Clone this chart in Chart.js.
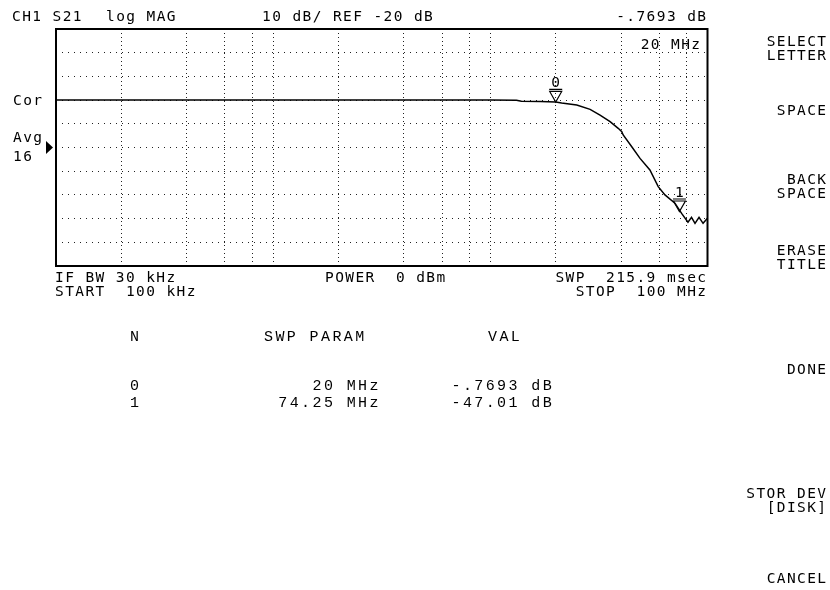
<!DOCTYPE html>
<html>
<head>
<meta charset="utf-8">
<script src="https://cdn.jsdelivr.net/npm/chart.js@4.4.0/dist/chart.umd.min.js"></script>
<style>
  body { margin: 0; background: #fff; }
  #screen { position: relative; width: 830px; height: 590px; background: #fff; overflow: hidden; }
  #screen canvas { position: absolute; left: 0; top: 0; }
  .txt { position: absolute; white-space: pre; color: #000; }
  .hp { font: 14.5px/14px "DejaVu Sans Mono", monospace; letter-spacing: 1.4px; }
  .tbl { font: 15px/15px "Liberation Mono", monospace; letter-spacing: 2.4px; }
</style>
</head>
<body>
<div id="screen">
  <canvas id="trace" width="830" height="590"></canvas>
</div>
<script>
// S21 log MAG trace, 100 kHz .. 100 MHz (frequencies in MHz)
const traceFreqs = [0.1, 1, 10, 13.2, 13.9, 17, 20, 21.3, 25.0, 28.8, 32.0, 35.6, 38.8, 40.3, 40.9,
  44.8, 48.9, 54.3, 59.3, 63.7, 70.8, 76.0, 81.3, 84.4, 87.6, 91.4, 95.4, 100];
const traceDb = [0, 0, 0, -0.05, -0.45, -0.55, -0.77, -1.2, -2.1, -3.9, -6.3, -9.1, -11.9, -13.3, -14.7,
  -19.7, -24.6, -29.5, -36.5, -40.0, -43.5, -47.8, -51.5, -49.5, -52.0, -49.5, -52.0, -49.8];

// markers
const markerNames = ['0', '1'];
const markerFreqs = [20, 74.25];
const markerDb = [-0.7693, -47.01];
const markerFreqText = ['20 MHz', '74.25 MHz'];
const markerValText = ['-.7693 dB', '-47.01 dB'];

// graticule: 10 dB/div, REF -20 dB, log frequency grid at 2,4,6,8 per decade
const refLevel = -20;
const yMin = -70;
const yMax = 30;
const freqGrid = [0.2, 0.4, 0.6, 0.8, 1, 2, 4, 6, 8, 10, 20, 40, 60, 80];

const screen = document.getElementById('screen');

function addText(txt, x, base, cls, align) {
  const d = document.createElement('div');
  d.className = 'txt ' + cls;
  d.textContent = txt;
  const ls = cls === 'hp' ? 1.4 : 2.4;
  const lift = cls === 'hp' ? 12.2 : 11.5;
  d.style.top = (base - lift) + 'px';
  if (align === 'right') {
    d.style.right = (830 - x - ls) + 'px';
  } else {
    d.style.left = x + 'px';
  }
  screen.appendChild(d);
}

// frame, marker symbols and reference arrow
const screenDecor = {
  id: 'screenDecor',
  afterDatasetsDraw(chart) {
    const { ctx, chartArea, scales } = chart;
    const x = scales.x;
    const y = scales.y;
    ctx.save();
    ctx.strokeStyle = '#000';
    ctx.fillStyle = '#000';

    // markers
    ctx.lineWidth = 1.2;
    ctx.font = '14.5px "DejaVu Sans Mono", monospace';
    ctx.textAlign = 'center';
    markerFreqs.forEach((f, i) => {
      const px = x.getPixelForValue(f);
      const py = y.getPixelForValue(markerDb[i]);
      ctx.beginPath();
      ctx.moveTo(px - 6.5, py - 12.5);
      ctx.lineTo(px + 6.5, py - 12.5);
      ctx.moveTo(px - 6, py - 10.5);
      ctx.lineTo(px + 6, py - 10.5);
      ctx.lineTo(px, py);
      ctx.closePath();
      ctx.stroke();
      ctx.fillText(markerNames[i], px, py - 15);
    });

    // frame
    ctx.lineWidth = 2;
    ctx.strokeRect(chartArea.left, chartArea.top, chartArea.right - chartArea.left, chartArea.bottom - chartArea.top);

    // reference position arrow
    const yr = y.getPixelForValue(refLevel);
    ctx.beginPath();
    ctx.moveTo(chartArea.left - 10, yr - 6.5);
    ctx.lineTo(chartArea.left - 3, yr);
    ctx.lineTo(chartArea.left - 10, yr + 6.5);
    ctx.closePath();
    ctx.fill();
    ctx.restore();
  }
};

new Chart(document.getElementById('trace'), {
  type: 'line',
  data: {
    datasets: [{
      data: traceFreqs.map((f, i) => ({ x: f, y: traceDb[i] })),
      borderColor: '#000',
      borderWidth: 1.5,
      pointRadius: 0,
      tension: 0,
      fill: false
    }]
  },
  options: {
    responsive: false,
    animation: false,
    layout: { padding: { left: 56, top: 29, right: 122.5, bottom: 324 } },
    plugins: { legend: { display: false }, tooltip: { enabled: false } },
    scales: {
      x: {
        type: 'logarithmic',
        min: 0.1,
        max: 100,
        afterBuildTicks: (scale) => {
          scale.ticks = freqGrid.map((v) => ({ value: v }));
        },
        ticks: { display: false },
        grid: { color: '#222', lineWidth: 1, drawTicks: false },
        border: { display: false, dash: [1, 3] }
      },
      y: {
        min: yMin,
        max: yMax,
        ticks: { display: false, stepSize: 10 },
        grid: { color: '#222', lineWidth: 1, drawTicks: false },
        border: { display: false, dash: [1, 5] }
      }
    }
  },
  plugins: [screenDecor]
});

// annotation text
addText('CH1 S21', 12, 20.7, 'hp');
addText('log MAG', 106, 20.7, 'hp');
addText('10 dB/ REF -20 dB', 262, 20.7, 'hp');
addText('-.7693 dB', 706, 20.7, 'hp', 'right');
addText('20 MHz', 700, 49, 'hp', 'right');
addText('Cor', 13, 105, 'hp');
addText('Avg', 13, 142, 'hp');
addText('16', 13, 161.5, 'hp');
addText('IF BW 30 kHz', 55, 281.7, 'hp');
addText('START  100 kHz', 55, 296.5, 'hp');
addText('POWER  0 dBm', 325, 281.7, 'hp');
addText('SWP  215.9 msec', 706, 281.7, 'hp', 'right');
addText('STOP  100 MHz', 706, 296.5, 'hp', 'right');

// softkeys
addText('SELECT', 826, 46, 'hp', 'right');
addText('LETTER', 826, 60, 'hp', 'right');
addText('SPACE', 826, 115.5, 'hp', 'right');
addText('BACK', 826, 184, 'hp', 'right');
addText('SPACE', 826, 198, 'hp', 'right');
addText('ERASE', 826, 255, 'hp', 'right');
addText('TITLE', 826, 269, 'hp', 'right');
addText('DONE', 826, 374.5, 'hp', 'right');
addText('STOR DEV', 826, 498, 'hp', 'right');
addText('[DISK]', 826, 512, 'hp', 'right');
addText('CANCEL', 826, 583, 'hp', 'right');

// marker table
addText('N', 130, 341.7, 'tbl');
addText('SWP PARAM', 264, 341.7, 'tbl');
addText('VAL', 488, 341.7, 'tbl');
markerNames.forEach((n, i) => {
  const base = 390.5 + i * 16.5;
  addText(n, 130, base, 'tbl');
  addText(markerFreqText[i], 378.5, base, 'tbl', 'right');
  addText(markerValText[i], 451.5, base, 'tbl');
});
</script>
</body>
</html>
